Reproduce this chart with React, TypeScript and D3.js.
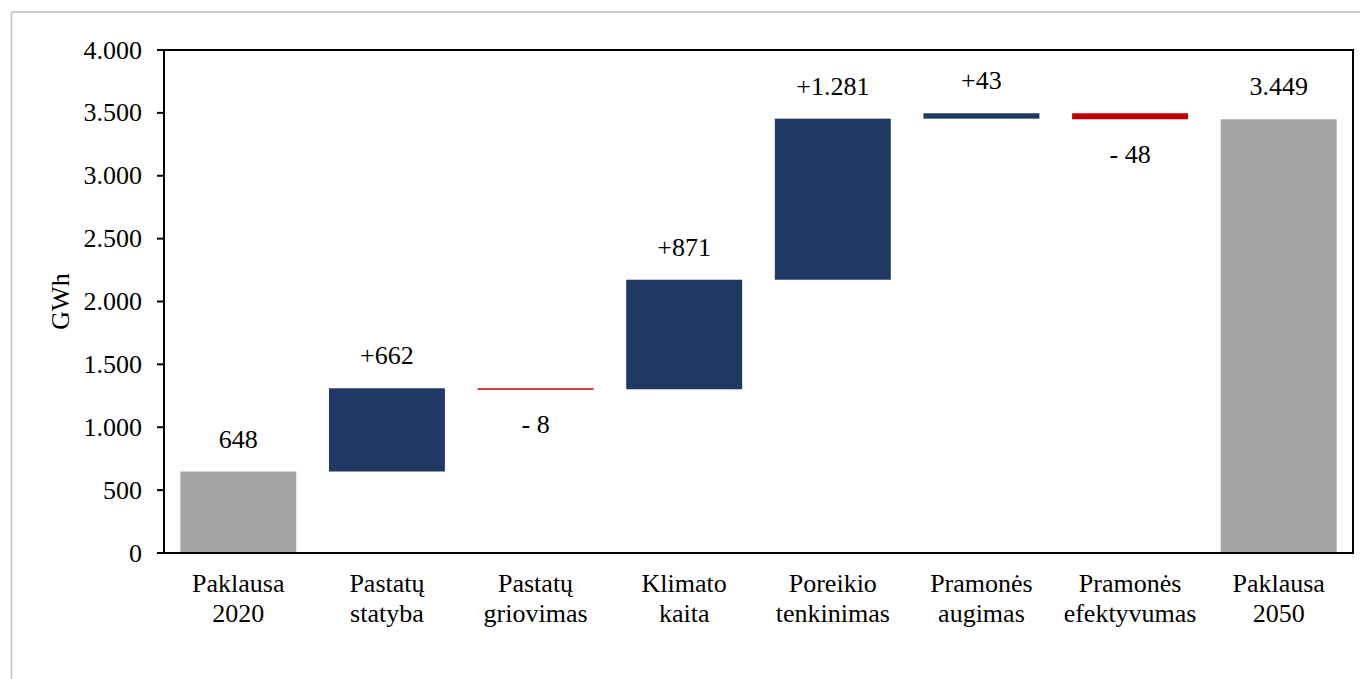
import React from "react";
import * as d3 from "d3";

const categories: string[][] = [
  ["Paklausa", "2020"],
  ["Pastatų", "statyba"],
  ["Pastatų", "griovimas"],
  ["Klimato", "kaita"],
  ["Poreikio", "tenkinimas"],
  ["Pramonės", "augimas"],
  ["Pramonės", "efektyvumas"],
  ["Paklausa", "2050"],
];
const kinds: string[] = ["total", "delta", "delta", "delta", "delta", "delta", "delta", "total"];
const values: number[] = [648, 662, -8, 871, 1281, 43, -48, 3449];
const valueLabels: string[] = ["648", "+662", "- 8", "+871", "+1.281", "+43", "- 48", "3.449"];
const yTicks: number[] = [0, 500, 1000, 1500, 2000, 2500, 3000, 3500, 4000];

const W = 1360;
const H = 679;
const FONT = "Liberation Serif, serif";
const GRAY = "#A5A5A5";
const BLUE = "#1F3864";
const RED = "#C00000";
const FS = 26;

export default function App() {
  const left = 164, right = 1353, top = 50, bottom = 553;
  const x = d3.scaleBand<number>().domain(d3.range(categories.length)).range([left, right]).paddingInner(0.22).paddingOuter(0.11);
  const y = d3.scaleLinear().domain([0, 4000]).range([bottom, top]);
  const fmt = (v: number) => d3.format(",")(v).replace(/,/g, ".");

  let cum = 0;
  const bars = values.map((v, i) => {
    let y0: number, y1: number;
    if (kinds[i] === "total") {
      y0 = 0; y1 = v; cum = v;
    } else {
      y0 = cum; y1 = cum + v; cum = y1;
    }
    const lo = Math.min(y0, y1), hi = Math.max(y0, y1);
    const color = kinds[i] === "total" ? GRAY : v >= 0 ? BLUE : RED;
    return { i, lo, hi, v, color };
  });

  const ts = { fontFamily: FONT, fontSize: FS } as React.CSSProperties;

  return (
    <svg width={W} height={H} style={{ position: "absolute", left: 0, top: 0, background: "#fff", fontFamily: FONT }}>
      {/* outer frame */}
      <line x1={11.5} y1={12} x2={W} y2={12} stroke="#BFBFBF" strokeWidth={1.5} />
      <line x1={11.5} y1={12} x2={11.5} y2={H} stroke="#BFBFBF" strokeWidth={1.5} />

      {/* bars */}
      {bars.map((b) => {
        const yt = y(b.hi), yb = y(b.lo);
        const h = Math.max(yb - yt, 1.5);
        return <rect key={b.i} x={x(b.i)!} y={yt} width={x.bandwidth()} height={h} fill={b.color} />;
      })}

      {/* value labels */}
      {bars.map((b) => {
        const cx = x(b.i)! + x.bandwidth() / 2;
        const pos = b.v >= 0;
        const yy = pos ? y(b.hi) - 24 : y(b.lo) + 44;
        return (
          <text key={"l" + b.i} x={cx} y={yy} textAnchor="middle" style={ts} fill="#000">
            {valueLabels[b.i]}
          </text>
        );
      })}

      {/* plot frame */}
      <rect x={left} y={top} width={right - left} height={bottom - top} fill="none" stroke="#000" strokeWidth={2} />

      {/* y ticks */}
      {yTicks.map((t) => (
        <g key={t}>
          <line x1={left - 7} x2={left} y1={y(t)} y2={y(t)} stroke="#000" strokeWidth={2} />
          <text x={142} y={y(t) + 8.5} textAnchor="end" style={ts} fill="#000">
            {fmt(t)}
          </text>
        </g>
      ))}

      {/* category labels */}
      {categories.map((c, i) => {
        const cx = x(i)! + x.bandwidth() / 2;
        return (
          <text key={"c" + i} x={cx} textAnchor="middle" style={ts} fill="#000">
            <tspan x={cx} y={592}>{c[0]}</tspan>
            <tspan x={cx} y={622}>{c[1]}</tspan>
          </text>
        );
      })}

      {/* y axis title */}
      <text transform={`translate(69, ${(top + bottom) / 2}) rotate(-90)`} textAnchor="middle" style={ts} fill="#000">
        GWh
      </text>
    </svg>
  );
}
